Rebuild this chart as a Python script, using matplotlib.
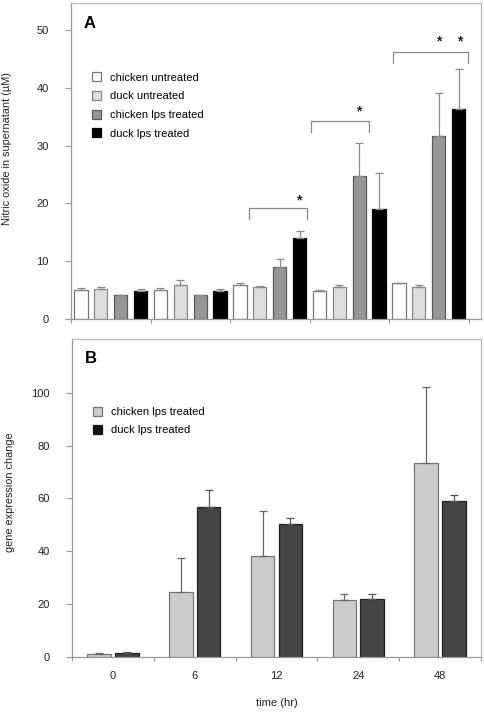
"""Nitric oxide (A) and gene expression (B) in chicken vs duck cells."""

import matplotlib

matplotlib.use("Agg")
import matplotlib.pyplot as plt  # noqa: E402
import numpy as np  # noqa: E402
from matplotlib.patches import Patch  # noqa: E402

plt.rcParams["font.family"] = ["Liberation Sans", "DejaVu Sans"]

# --- data ---
times = ["0", "6", "12", "24", "48"]

# panel A: nitric oxide (µM)
no_chicken_untreated = [5.0, 5.0, 5.9, 4.8, 6.2]
no_chicken_untreated_err = [0.3, 0.3, 0.35, 0.2, 0.1]
no_duck_untreated = [5.2, 5.9, 5.6, 5.6, 5.6]
no_duck_untreated_err = [0.3, 0.9, 0.2, 0.35, 0.3]
no_chicken_lps = [4.2, 4.2, 9.0, 24.8, 31.7]
no_chicken_lps_err = [0.0, 0.0, 1.4, 5.6, 7.4]
no_duck_lps = [4.9, 4.9, 14.1, 19.0, 36.4]
no_duck_lps_err = [0.3, 0.3, 1.1, 6.3, 6.8]

# significance brackets: (group, left, right, height)
brackets = [(2, -0.255, 0.47, 19.2), (3, -0.478, 0.248, 34.2), (4, -0.45, 0.497, 46.3)]
stars = [(2, 0.368, 20.6), (3, 0.123, 35.9), (4, 0.12, 48.0), (4, 0.385, 48.0)]

# panel B: gene expression change
ge_chicken_lps = [1.1, 24.6, 38.2, 21.7, 73.3]
ge_chicken_lps_err = [0.5, 12.9, 17.2, 2.1, 28.8]
ge_duck_lps = [1.5, 56.6, 50.4, 22.1, 58.9]
ge_duck_lps_err = [0.5, 6.6, 2.3, 1.7, 2.5]

TXT = "#222222"
AX = "#999999"
FRAME = "#bbbbbb"

fig = plt.figure(figsize=(4.84, 7.15), dpi=100)
fig.patch.set_facecolor("white")


def style_axes(ax):
    for side in ("top", "right"):
        ax.spines[side].set_color(FRAME)
    for side in ("left", "bottom"):
        ax.spines[side].set_color(AX)
    for sp in ax.spines.values():
        sp.set_linewidth(0.9)
    ax.tick_params(axis="y", length=4, width=0.8, color=AX, pad=12,
                   labelsize=8, labelcolor=TXT)


# ---------- panel A ----------
axA = fig.add_axes([0.1467, 0.5538, 0.8471, 0.4420])
style_axes(axA)
x = np.arange(len(times))
w = 0.167
seriesA = [
    (no_chicken_untreated, no_chicken_untreated_err, "white", "#777777", "chicken untreated"),
    (no_duck_untreated, no_duck_untreated_err, "#dddddd", "#888888", "duck untreated"),
    (no_chicken_lps, no_chicken_lps_err, "#969696", "#5a5a5a", "chicken lps treated"),
    (no_duck_lps, no_duck_lps_err, "black", "black", "duck lps treated"),
]
offsets = [-0.375, -0.125, 0.125, 0.375]
for (vals, errs, fc, ec, lab), off in zip(seriesA, offsets):
    axA.bar(x + off, vals, w, color=fc, edgecolor=ec, linewidth=0.9, label=lab,
            yerr=[np.zeros(len(errs)), errs],
            error_kw=dict(ecolor="#8a8a8a", elinewidth=0.9, capsize=3, capthick=0.9))

for g, lft, rgt, h in brackets:
    axA.plot([g + lft, g + lft, g + rgt, g + rgt], [h - 1.9, h, h, h - 1.9],
             color="#8a8a8a", linewidth=0.9)
for g, off, h in stars:
    axA.text(g + off, h, "*", ha="center", va="center", fontsize=10,
             fontweight="bold", color=TXT)

axA.set_xlim(-0.5, 4.657)
axA.set_ylim(0, 54.7)
axA.set_yticks([0, 10, 20, 30, 40, 50])
axA.set_xticks([])
axA.set_xticks(np.arange(-0.5, 5, 1), minor=True)
axA.tick_params(axis="x", which="minor", length=3, width=0.8, color=AX)
axA.set_ylabel("Nitric oxide in supernatant (µM)", fontsize=7.8, color=TXT)
axA.yaxis.set_label_coords(-0.143, 0.538)
axA.text(0.045, 0.935, "A", transform=axA.transAxes, fontsize=12,
         fontweight="bold", ha="center", va="center", color="black")
axA.legend(loc="upper left", bbox_to_anchor=(0.04, 0.795), frameon=False,
           fontsize=8, handlelength=0.85, handleheight=0.85, handletextpad=0.8,
           labelspacing=0.76, borderaxespad=0)

# ---------- panel B ----------
axB = fig.add_axes([0.1488, 0.0811, 0.8450, 0.4448])
style_axes(axB)
wb = 0.29
axB.bar(x - 0.17, ge_chicken_lps, wb, color="#cccccc", edgecolor="#777777",
        linewidth=0.9, yerr=[np.zeros(5), ge_chicken_lps_err],
        error_kw=dict(ecolor="#666666", elinewidth=0.9, capsize=3, capthick=0.9))
axB.bar(x + 0.17, ge_duck_lps, wb, color="#444444", edgecolor="#222222",
        linewidth=0.9, yerr=[np.zeros(5), ge_duck_lps_err],
        error_kw=dict(ecolor="#555555", elinewidth=0.9, capsize=3, capthick=0.9))
axB.set_xlim(-0.5, 4.5)
axB.set_ylim(0, 120.3)
axB.set_yticks([0, 20, 40, 60, 80, 100])
axB.set_xticks(x)
axB.set_xticklabels(times)
axB.tick_params(axis="x", which="major", length=0, pad=10, labelsize=8, labelcolor=TXT)
axB.set_xticks(np.arange(-0.5, 5, 1), minor=True)
axB.tick_params(axis="x", which="minor", length=3, width=0.8, color=AX)
axB.set_ylabel("gene expression change", fontsize=7.8, color=TXT)
axB.yaxis.set_label_coords(-0.139, 0.519)
axB.set_xlabel("time (hr)", fontsize=8, color=TXT, labelpad=12)
axB.text(0.045, 0.94, "B", transform=axB.transAxes, fontsize=12,
         fontweight="bold", ha="center", va="center", color="black")
handlesB = [Patch(facecolor="#cccccc", edgecolor="#777777", linewidth=0.9),
            Patch(facecolor="#111111", edgecolor="#111111", linewidth=0.9)]
axB.legend(handlesB, ["chicken lps treated", "duck lps treated"], loc="upper left",
           bbox_to_anchor=(0.04, 0.80), frameon=False, fontsize=8,
           handlelength=0.85, handleheight=0.85, handletextpad=0.8,
           labelspacing=0.7, borderaxespad=0)

fig.savefig("out.png", dpi=100, facecolor="white")
